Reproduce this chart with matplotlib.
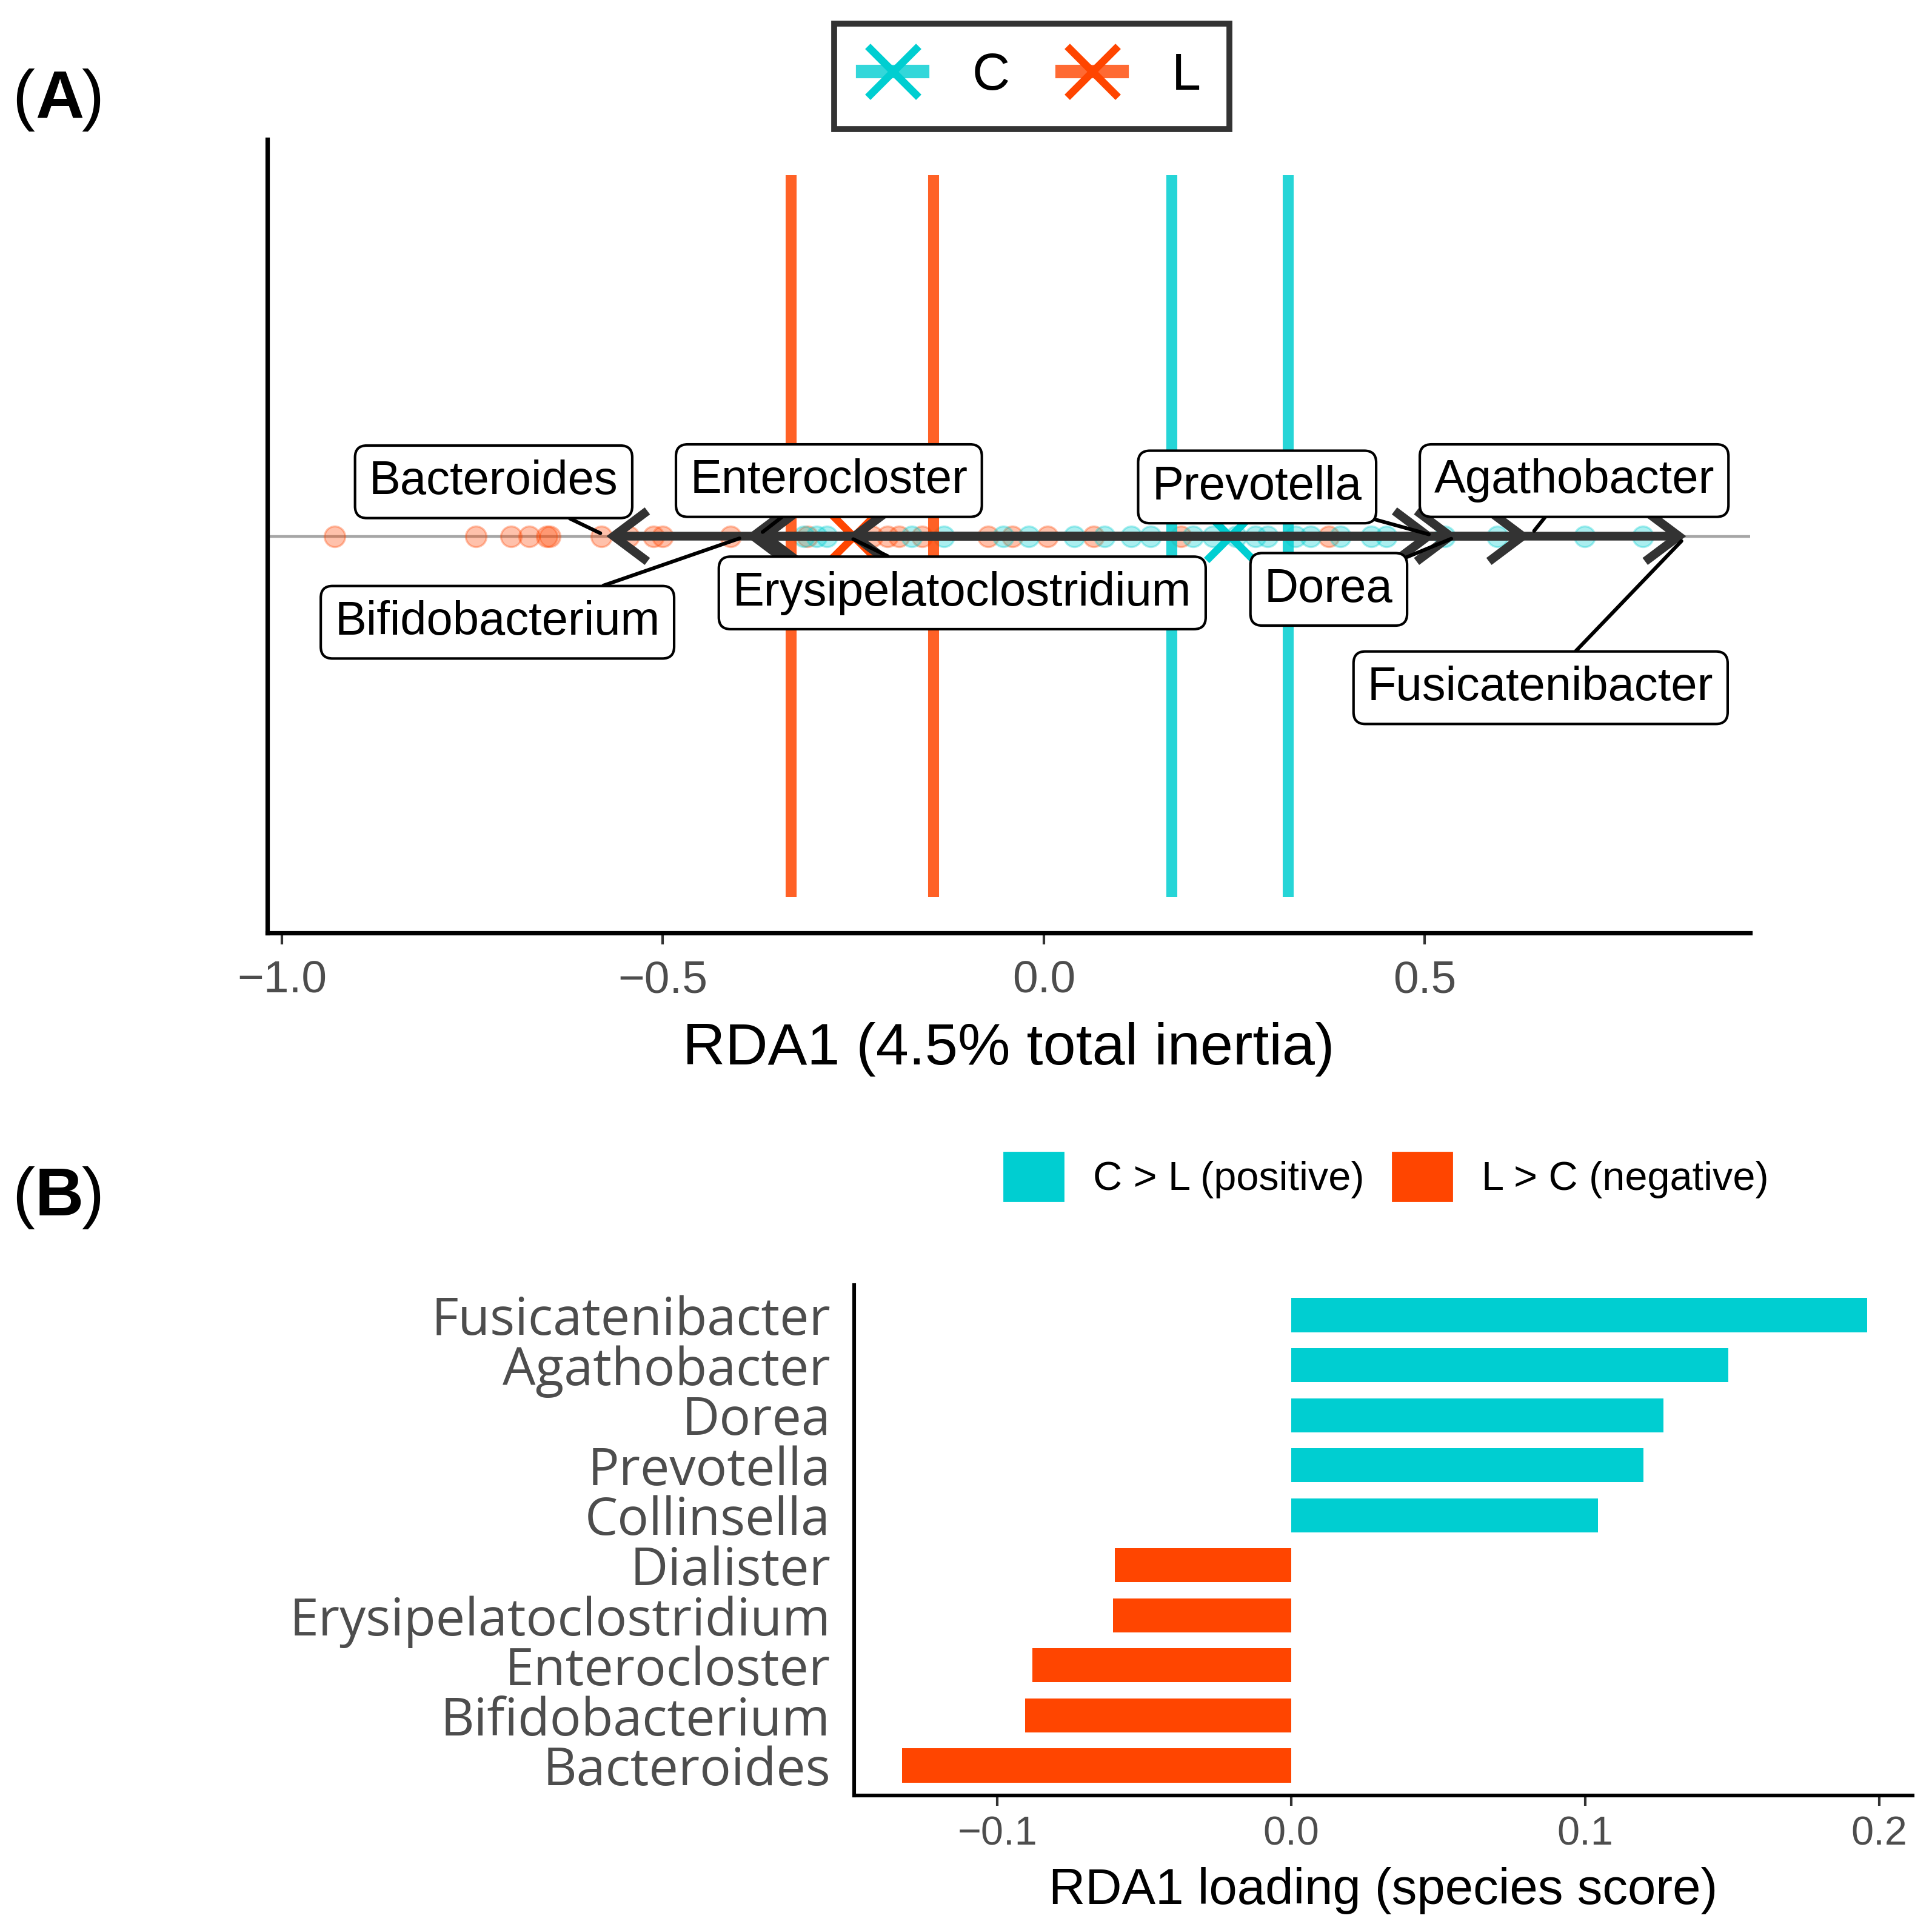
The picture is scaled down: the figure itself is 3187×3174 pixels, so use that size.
import matplotlib
matplotlib.use('Agg')
import matplotlib.pyplot as plt
from matplotlib.lines import Line2D
from matplotlib.patches import Patch, FancyArrowPatch

plt.rcParams['font.family'] = ['Liberation Sans', 'DejaVu Sans']

# ---------------- data ----------------
# site scores on RDA1 per group
l_scores = [-0.931, -0.745, -0.699, -0.675, -0.652, -0.648, -0.581, -0.545, -0.512,
            -0.500, -0.411, -0.310, -0.225, -0.205, -0.190, -0.160, -0.073, -0.041,
            0.005, 0.065, 0.180, 0.374]
c_scores = [-0.315, -0.298, -0.285, -0.173, -0.131, -0.053, -0.020, 0.040, 0.080,
            0.115, 0.140, 0.196, 0.222, 0.252, 0.278, 0.294, 0.330, 0.350, 0.389,
            0.430, 0.450, 0.526, 0.595, 0.710, 0.786]

groups = ['C', 'L']
group_centroid = [0.244, -0.250]
group_low = [0.168, -0.332]
group_high = [0.321, -0.145]
group_colors = ['#00CED1', '#FF4500']

arrow_taxa = ['Bacteroides', 'Bifidobacterium', 'Enterocloster', 'Erysipelatoclostridium',
              'Prevotella', 'Dorea', 'Agathobacter', 'Fusicatenibacter']
arrow_tip = [-0.574, -0.391, -0.376, -0.258, 0.514, 0.543, 0.638, 0.843]

bar_taxa = ['Bacteroides', 'Bifidobacterium', 'Enterocloster', 'Erysipelatoclostridium',
            'Dialister', 'Collinsella', 'Prevotella', 'Dorea', 'Agathobacter',
            'Fusicatenibacter']
bar_loading = [-0.1324, -0.0905, -0.0880, -0.0607, -0.0600, 0.1043, 0.1198, 0.1265,
               0.1487, 0.1958]

xticks_a = [-1.0, -0.5, 0.0, 0.5]
xticks_b = [-0.1, 0.0, 0.1, 0.2]

# label layout (repelled label positions, data coords)
label_pos = {
    'Bacteroides': (-0.722, 0.137),
    'Enterocloster': (-0.282, 0.140),
    'Bifidobacterium': (-0.717, -0.217),
    'Erysipelatoclostridium': (-0.107, -0.143),
    'Prevotella': (0.280, 0.124),
    'Agathobacter': (0.696, 0.140),
    'Dorea': (0.374, -0.134),
    'Fusicatenibacter': (0.652, -0.382),
}

W, H = 3187, 3174
DPI = 200
fig = plt.figure(figsize=(W / DPI, H / DPI), dpi=DPI)

GRAY = '#4D4D4D'

# ---------------- panel A ----------------
axA = fig.add_axes([441 / W, 1 - 1539 / H, (2887 - 441) / W, (1539 - 230) / H])
axA.set_xlim(-1.019, 0.927)
axA.set_ylim(-1, 1)
axA.axhline(0, color='#A6A6A6', lw=1.6, zorder=1)

axA.scatter(l_scores, [0] * len(l_scores), s=150, color=group_colors[1], alpha=0.33,
            edgecolors=group_colors[1], linewidths=1.2, zorder=2)
axA.scatter(c_scores, [0] * len(c_scores), s=150, color=group_colors[0], alpha=0.33,
            edgecolors=group_colors[0], linewidths=1.2, zorder=2)

for g, cen, lo, hi, col in zip(groups, group_centroid, group_low, group_high, group_colors):
    axA.vlines([lo, hi], -0.91, 0.91, color=col, lw=6.5, alpha=0.85, zorder=3)
    axA.plot([cen], [0], marker='x', ms=28, mew=4.5, color=col, ls='none', zorder=4)

for taxon, tip in zip(arrow_taxa, arrow_tip):
    arr = FancyArrowPatch((0, 0), (tip, 0), arrowstyle='->,head_length=0.4,head_width=0.3',
                          mutation_scale=50, color='#333333', lw=5.2,
                          shrinkA=0, shrinkB=0, zorder=5, joinstyle='miter', capstyle='butt')
    axA.add_patch(arr)

for taxon, tip in zip(arrow_taxa, arrow_tip):
    lx, ly = label_pos[taxon]
    axA.annotate(taxon, xy=(tip, 0), xytext=(lx, ly), fontsize=28, ha='center', va='center',
                 color='black', zorder=10,
                 bbox=dict(boxstyle='round,pad=0.3,rounding_size=0.25', fc='white',
                           ec='black', lw=1.5),
                 arrowprops=dict(arrowstyle='-', color='black', lw=2.2, shrinkA=0,
                                 shrinkB=4))

for s in ['top', 'right']:
    axA.spines[s].set_visible(False)
for s in ['left', 'bottom']:
    axA.spines[s].set_linewidth(2.6)
axA.set_yticks([])
axA.set_xticks(xticks_a)
axA.set_xticklabels(['\u2212%.1f' % abs(v) if v < 0 else '%.1f' % v for v in xticks_a])
axA.tick_params(axis='x', length=7, width=1.5, color='#333333', labelsize=27,
                labelcolor=GRAY, pad=9)
axA.set_xlabel('RDA1 (4.5% total inertia)', fontsize=35, color='black', labelpad=12)

# legend A
h_c = (Line2D([], [], color=group_colors[0], lw=8, alpha=0.8),
       Line2D([], [], marker='x', ms=30, mew=4.5, color=group_colors[0], ls='none'))
h_l = (Line2D([], [], color=group_colors[1], lw=8, alpha=0.8),
       Line2D([], [], marker='x', ms=30, mew=4.5, color=group_colors[1], ls='none'))
legA = fig.legend([h_c, h_l], groups, loc='center', bbox_to_anchor=(1702 / W, 1 - 126 / H),
                  ncol=2, fontsize=31, frameon=True, fancybox=False, handlelength=1.15,
                  handletextpad=0.95, columnspacing=1.0, borderpad=0.55, edgecolor='black')
legA.get_frame().set_linewidth(3.5)

# panel labels
for lab, yc in [('A', 165), ('B', 1976)]:
    fig.text(20 / W, 1 - yc / H, '(', fontsize=40, ha='left', va='center')
    fig.text(58 / W, 1 - yc / H, lab, fontsize=40, ha='left', va='center', fontweight='bold')
    fig.text(134 / W, 1 - yc / H, ')', fontsize=40, ha='left', va='center')

# ---------------- panel B ----------------
axB = fig.add_axes([1409 / W, 1 - 2962 / H, (3155 - 1409) / W, (2962 - 2120) / H])
ypos = list(range(1, len(bar_taxa) + 1))
bar_cols = [group_colors[0] if v > 0 else group_colors[1] for v in bar_loading]
axB.barh(ypos, bar_loading, height=0.68, color=bar_cols, zorder=2)
axB.set_xlim(-0.1487, 0.2113)
axB.set_ylim(0.4, 10.6)
axB.set_yticks(ypos)
axB.set_yticklabels(bar_taxa, fontfamily=['Open Sans', 'DejaVu Sans'], fontsize=31, color=GRAY)
axB.tick_params(axis='y', length=0, pad=14)
axB.set_xticks(xticks_b)
axB.set_xticklabels(['\u2212%.1f' % abs(v) if v < 0 else '%.1f' % v for v in xticks_b])
axB.tick_params(axis='x', length=6, width=1.5, color='#333333', labelsize=24,
                labelcolor=GRAY, pad=6)
axB.set_xlabel('RDA1 loading (species score)', fontsize=30, color='black', labelpad=8)
for s in ['top', 'right']:
    axB.spines[s].set_visible(False)
for s in ['left', 'bottom']:
    axB.spines[s].set_linewidth(2.2)

legB = fig.legend([Patch(color=group_colors[0]), Patch(color=group_colors[1])],
                  ['C > L (positive)', 'L > C (negative)'], loc='center',
                  bbox_to_anchor=(2287 / W, 1 - 1941 / H), ncol=2, fontsize=24,
                  frameon=False, handlelength=1.47, handleheight=1.47,
                  handletextpad=0.73, columnspacing=0.7)

fig.savefig('out.png', dpi=DPI)
